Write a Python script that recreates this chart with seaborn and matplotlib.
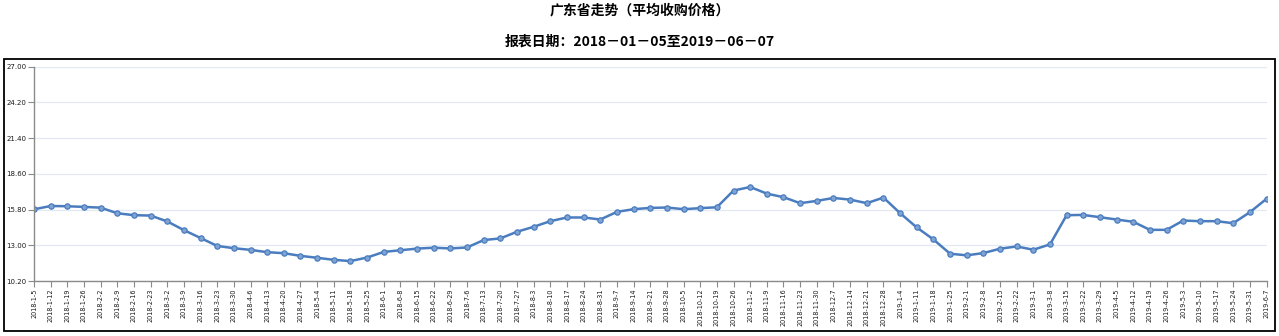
import matplotlib
matplotlib.use("Agg")
import matplotlib.pyplot as plt
from matplotlib.patches import Rectangle
import seaborn as sns
import pandas as pd

# Weekly report dates (2018-01-05 .. 2019-06-07)
dates = pd.date_range("2018-01-05", "2019-06-07", freq="7D")
date_labels = [f"{d.year}-{d.month}-{d.day}" for d in dates]

# Average purchase price, Guangdong province
prices = [
    15.82, 16.08, 16.06, 16.01, 15.95, 15.51, 15.36, 15.33, 14.87, 14.19,
    13.57, 12.95, 12.77, 12.64, 12.46, 12.38, 12.17, 12.02, 11.86, 11.76,
    12.04, 12.48, 12.61, 12.74, 12.81, 12.75, 12.83, 13.41, 13.54, 14.06,
    14.45, 14.89, 15.18, 15.18, 15.02, 15.62, 15.83, 15.93, 15.96, 15.83,
    15.91, 15.98, 17.29, 17.57, 17.05, 16.77, 16.30, 16.48, 16.71, 16.58,
    16.30, 16.74, 15.52, 14.40, 13.46, 12.34, 12.21, 12.39, 12.73, 12.91,
    12.65, 13.07, 15.36, 15.38, 15.20, 15.02, 14.84, 14.21, 14.21, 14.94,
    14.89, 14.89, 14.73, 15.59, 16.64,
]
y_ticks = [10.20, 13.00, 15.80, 18.60, 21.40, 24.20, 27.00]

title = "广东省走势（平均收购价格）"
subtitle = "报表日期：2018－01－05至2019－06－07"

sns.set_theme(style="white")
plt.rcParams["font.family"] = ["Noto Sans CJK SC", "DejaVu Sans"]

df = pd.DataFrame({"idx": range(len(prices)), "price": prices})

fig = plt.figure(figsize=(12.79, 3.36), dpi=100)
ax = fig.add_axes([34 / 1279, 1 - 281 / 336, (1266.5 - 34) / 1279, (281 - 66.7) / 336])

line_color = "#4a7dbf"
sns.lineplot(data=df, x="idx", y="price", ax=ax, color=line_color, linewidth=1.8,
             marker="o", markersize=3.8, markerfacecolor="#7fa3d4",
             markeredgecolor=line_color, markeredgewidth=0.9)

ax.set_xlim(0, len(prices) - 1)
ax.set_ylim(y_ticks[0], y_ticks[-1])
ax.set_yticks(y_ticks)
ax.set_yticklabels([f"{v:.2f}" for v in y_ticks], fontsize=5.0, color="#1a1a1a",
                   family="DejaVu Sans")
ax.set_xticks(range(len(prices)))
ax.set_xticklabels(date_labels, rotation=90, fontsize=4.7, color="#1a1a1a",
                   family="DejaVu Sans", va="top", ha="center")
ax.set_xlabel("")
ax.set_ylabel("")

ax.grid(axis="y", color="#e3e9f2", linewidth=0.9)
ax.grid(axis="x", visible=False)
for side in ("top", "right"):
    ax.spines[side].set_visible(False)
for side in ("left", "bottom"):
    ax.spines[side].set_color("#8a8a8a")
    ax.spines[side].set_linewidth(1.0)
ax.tick_params(axis="both", which="both", length=4, width=0.8, color="#8a8a8a",
               pad=1.5, bottom=True, left=True)

# Outer frame around the chart body
fig.patches.append(Rectangle((4 / 1279, 1 - 331 / 336), (1275 - 4) / 1279,
                             (331 - 58.5) / 336, transform=fig.transFigure,
                             fill=False, edgecolor="black", linewidth=1.3))

fig.text(0.5, 1 - 10 / 336, title, ha="center", va="center", fontsize=10,
         fontweight="bold", color="black")
fig.text(0.5, 1 - 42 / 336, subtitle, ha="center", va="center", fontsize=10,
         fontweight="bold", color="black")

fig.savefig("out.png", dpi=100)
